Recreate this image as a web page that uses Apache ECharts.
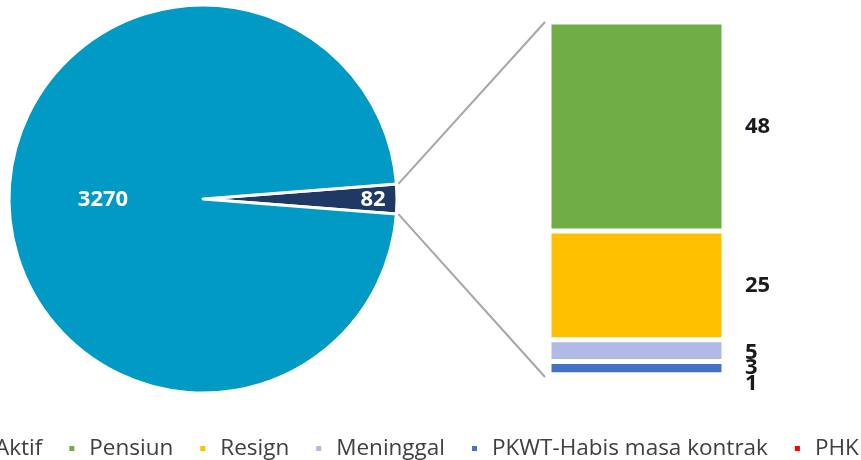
<!DOCTYPE html>
<html>
<head>
<meta charset="utf-8">
<script src="https://cdn.jsdelivr.net/npm/echarts@6/dist/echarts.min.js"></script>
<style>
  html, body { margin: 0; padding: 0; background: #fff; }
  #chart { width: 861px; height: 460px; }
</style>
</head>
<body>
<div id="chart"></div>
<script>
// Employee status: pie of all staff, bar breaking down the non-active slice
const pieNames = ['Tidak Aktif', 'Aktif'];
const pieValues = [82, 3270];
const pieColors = ['#1F3864', '#009AC4'];

const barNames = ['Pensiun', 'Resign', 'Meninggal', 'PKWT-Habis masa kontrak', 'PHK'];
const barValues = [48, 25, 5, 3, 1];
const barColors = ['#70AD47', '#FFC000', '#B1B9E5', '#4472C4', '#FF0000'];

const legendNames = ['Aktif', 'Pensiun', 'Resign', 'Meninggal', 'PKWT-Habis masa kontrak', 'PHK'];

const FONT = '"Open Sans", "Noto Sans", sans-serif';
const PIE_CENTER = [203, 199];
const PIE_R = 194;
const BAR_W = 175;

const total = pieValues.reduce((a, b) => a + b, 0);
const barTotal = barValues.reduce((a, b) => a + b, 0);
// centre the small slice on the 3 o'clock direction
const halfSmall = pieValues[0] / total * 360 / 2;

// small labels are nudged so they don't collide
const labelShift = { 'Meninggal': [0, 2], 'PKWT-Habis masa kontrak': [0, 0], 'PHK': [0, 7] };

const chart = echarts.init(document.getElementById('chart'), null, { renderer: 'canvas' });

const barSeries = [];
for (let i = barNames.length - 1; i >= 0; i--) {
  barSeries.push({
    type: 'bar',
    name: barNames[i],
    stack: 'rincian',
    barWidth: '100%',
    data: [barValues[i]],
    itemStyle: { color: barColors[i], borderColor: '#fff', borderWidth: 2.5 },
    label: {
      show: true,
      position: 'right',
      distance: 21,
      offset: labelShift[barNames[i]] || [0, 0],
      fontFamily: FONT,
      fontWeight: 'bold',
      fontSize: 22,
      color: '#1a1a1a',
      formatter: '{c}'
    },
    emphasis: { disabled: true },
    animation: false
  });
}

chart.setOption({
  animation: false,
  color: pieColors,
  legend: {
    data: legendNames.map(n => ({ name: n })),
    left: -32,
    top: 432,
    width: 1200,
    orient: 'horizontal',
    icon: 'rect',
    itemWidth: 7,
    itemHeight: 7,
    itemGap: 25,
    textStyle: { fontFamily: FONT, fontSize: 22.5, color: '#404040', padding: [0, 0, 0, 9] },
    selectedMode: false
  },
  grid: { left: 549, top: 22, width: BAR_W, height: 357 },
  xAxis: { type: 'category', data: ['rincian'], show: false },
  yAxis: { type: 'value', min: 0, max: barTotal, show: false },
  series: [
    {
      type: 'pie',
      center: PIE_CENTER,
      radius: PIE_R,
      startAngle: halfSmall,
      clockwise: true,
      data: pieNames.map((n, i) => ({
        name: n,
        value: pieValues[i],
        itemStyle: { color: pieColors[i] },
        label: { offset: i === 0 ? [70, 1] : [0, 1] }
      })),
      itemStyle: { borderColor: '#fff', borderWidth: 3 },
      label: {
        show: true,
        position: 'inside',
        formatter: '{c}',
        fontFamily: FONT,
        fontWeight: 'bold',
        fontSize: 22,
        color: '#fff'
      },
      labelLine: { show: false },
      emphasis: { disabled: true }
    }
  ].concat(barSeries)
});

// connector lines from the small slice to the top and bottom of the stacked bar
const rad = halfSmall * Math.PI / 180;
const edgeR = PIE_R + 2;
const pTop = [PIE_CENTER[0] + edgeR * Math.cos(rad), PIE_CENTER[1] - edgeR * Math.sin(rad)];
const pBot = [PIE_CENTER[0] + edgeR * Math.cos(rad), PIE_CENTER[1] + edgeR * Math.sin(rad)];
const bTop = chart.convertToPixel({ gridIndex: 0 }, [0, barTotal]);
const bBot = chart.convertToPixel({ gridIndex: 0 }, [0, 0]);
const barLeft = bTop[0] - BAR_W / 2 - 4;
chart.setOption({
  graphic: [
    { type: 'line', shape: { x1: pTop[0], y1: pTop[1], x2: barLeft, y2: bTop[1] },
      style: { stroke: '#A6A6A6', lineWidth: 2 } },
    { type: 'line', shape: { x1: pBot[0], y1: pBot[1], x2: barLeft, y2: bBot[1] - 2 },
      style: { stroke: '#A6A6A6', lineWidth: 2 } }
  ]
});
</script>
</body>
</html>
